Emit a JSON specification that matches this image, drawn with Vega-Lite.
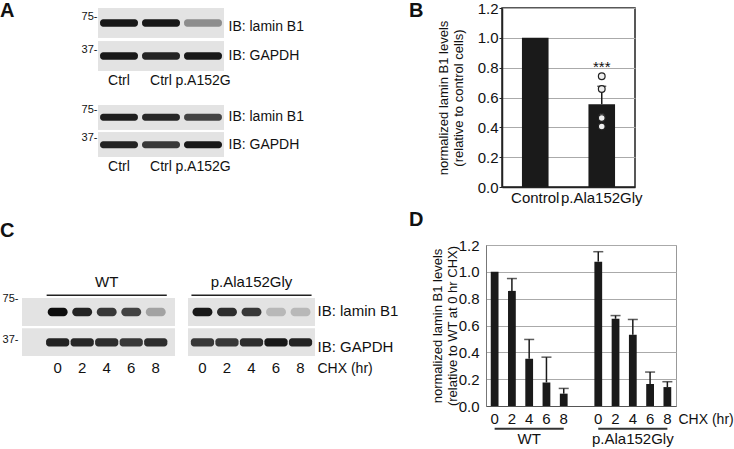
{
  "$schema": "https://vega.github.io/schema/vega-lite/v6.json",
  "padding": 0,
  "background": "white",
  "config": {
    "font": "Liberation Sans",
    "axis": {"labelColor": "#111", "titleColor": "#111", "domainColor": "#222", "tickColor": "#222"},
    "text": {"color": "#111"},
    "title": {"fontSize": 20, "fontWeight": "bold", "color": "#111", "anchor": "start", "frame": "group", "baseline": "alphabetic"}
  },
  "datasets": {
    "A1": [
      {"lane": "1", "row": "lamin B1", "v": 0.95},
      {"lane": "2", "row": "lamin B1", "v": 0.95},
      {"lane": "3", "row": "lamin B1", "v": 0.4},
      {"lane": "1", "row": "GAPDH", "v": 0.95},
      {"lane": "2", "row": "GAPDH", "v": 0.9},
      {"lane": "3", "row": "GAPDH", "v": 0.95}
    ],
    "A2": [
      {"lane": "1", "row": "lamin B1", "v": 0.92},
      {"lane": "2", "row": "lamin B1", "v": 0.88},
      {"lane": "3", "row": "lamin B1", "v": 0.75},
      {"lane": "1", "row": "GAPDH", "v": 0.9},
      {"lane": "2", "row": "GAPDH", "v": 0.8},
      {"lane": "3", "row": "GAPDH", "v": 0.95}
    ],
    "C": [
      {"g": "WT", "lane": "0", "row": "lamin B1", "v": 1.0},
      {"g": "WT", "lane": "2", "row": "lamin B1", "v": 0.9},
      {"g": "WT", "lane": "4", "row": "lamin B1", "v": 0.8},
      {"g": "WT", "lane": "6", "row": "lamin B1", "v": 0.75},
      {"g": "WT", "lane": "8", "row": "lamin B1", "v": 0.3},
      {"g": "M", "lane": "0", "row": "lamin B1", "v": 0.95},
      {"g": "M", "lane": "2", "row": "lamin B1", "v": 0.85},
      {"g": "M", "lane": "4", "row": "lamin B1", "v": 0.8},
      {"g": "M", "lane": "6", "row": "lamin B1", "v": 0.2},
      {"g": "M", "lane": "8", "row": "lamin B1", "v": 0.2},
      {"g": "WT", "lane": "0", "row": "GAPDH", "v": 0.9},
      {"g": "WT", "lane": "2", "row": "GAPDH", "v": 0.88},
      {"g": "WT", "lane": "4", "row": "GAPDH", "v": 0.85},
      {"g": "WT", "lane": "6", "row": "GAPDH", "v": 0.8},
      {"g": "WT", "lane": "8", "row": "GAPDH", "v": 0.85},
      {"g": "M", "lane": "0", "row": "GAPDH", "v": 0.8},
      {"g": "M", "lane": "2", "row": "GAPDH", "v": 0.8},
      {"g": "M", "lane": "4", "row": "GAPDH", "v": 0.85},
      {"g": "M", "lane": "6", "row": "GAPDH", "v": 0.95},
      {"g": "M", "lane": "8", "row": "GAPDH", "v": 0.9}
    ],
    "B": [
      {"group": "Control", "mean": 1.0},
      {"group": "p.Ala152Gly", "mean": 0.555, "upper": 0.675, "sig": "***"}
    ],
    "Bpts": [
      {"group": "p.Ala152Gly", "value": 0.742},
      {"group": "p.Ala152Gly", "value": 0.657},
      {"group": "p.Ala152Gly", "value": 0.47},
      {"group": "p.Ala152Gly", "value": 0.462},
      {"group": "p.Ala152Gly", "value": 0.406}
    ],
    "D": [
      {"slot": "W0", "mean": 1.0},
      {"slot": "W2", "mean": 0.858, "upper": 0.95},
      {"slot": "W4", "mean": 0.352, "upper": 0.496},
      {"slot": "W6", "mean": 0.176, "upper": 0.364},
      {"slot": "W8", "mean": 0.092, "upper": 0.131},
      {"slot": "M0", "mean": 1.076, "upper": 1.15},
      {"slot": "M2", "mean": 0.65, "upper": 0.674},
      {"slot": "M4", "mean": 0.531, "upper": 0.645},
      {"slot": "M6", "mean": 0.164, "upper": 0.253},
      {"slot": "M8", "mean": 0.141, "upper": 0.181}
    ],
    "Dgroups": [
      {"g": "WT", "start": "W0", "mid": "W4", "end": "W8"},
      {"g": "p.Ala152Gly", "start": "M0", "mid": "M4", "end": "M8"}
    ]
  },
  "spacing": 11,
  "hconcat": [
    {
      "spacing": 48,
      "vconcat": [
        {
          "bounds": "flush",
          "spacing": 0,
          "hconcat": [
            {
              "title": {"text": "A", "offset": -13},
              "width": 98, "height": 10, "view": {"stroke": null},
              "data": {"values": []}, "mark": "point", "encoding": {}
            },
            {
              "bounds": "flush",
              "spacing": 34,
              "vconcat": [
                {
                  "width": 126, "height": 63, "view": {"stroke": null},
                  "data": {"name": "A1"},
                  "layer": [
                    {
                      "mark": {"type": "rect", "color": "#e3e3e3"},
                      "encoding": {
                        "y": {"field": "row", "type": "nominal", "scale": {"domain": ["lamin B1", "GAPDH"], "paddingInner": 0.1, "paddingOuter": 0},
                          "axis": {"orient": "left", "title": null, "ticks": false, "domain": false, "labelPadding": 1, "labelFontSize": 11,
                            "labelExpr": "datum.value == 'lamin B1' ? '75-' : '37-'", "labelOffset": -6}}
                      }
                    },
                    {
                      "mark": {"type": "rect", "color": "#0d0d0d", "width": {"band": 0.9}, "height": {"band": 0.25}, "cornerRadius": 3},
                      "encoding": {
                        "x": {"field": "lane", "type": "nominal", "scale": {"domain": ["1", "2", "3"], "paddingInner": 0, "paddingOuter": 0},
                          "axis": {"title": null, "ticks": false, "domain": false, "labelAngle": 0, "labelPadding": 2, "labelFontSize": 14,
                            "labelExpr": "datum.value == '3' ? 'p.A152G' : 'Ctrl'"}},
                        "y": {"field": "row", "type": "nominal",
                          "axis": {"orient": "right", "title": null, "ticks": false, "domain": false, "labelPadding": 4, "labelFontSize": 14,
                            "labelExpr": "'IB: ' + datum.value", "labelOffset": {"condition": {"test": "datum.value == 'lamin B1'", "value": 4}, "value": 0}}},
                        "opacity": {"field": "v", "type": "quantitative", "scale": {"domain": [0, 1], "range": [0, 1]}, "legend": null}
                      }
                    }
                  ],
                  "resolve": {"axis": {"y": "independent"}}
                },
                {
                  "width": 126, "height": 52, "view": {"stroke": null},
                  "data": {"name": "A2"},
                  "layer": [
                    {
                      "mark": {"type": "rect", "color": "#e3e3e3"},
                      "encoding": {
                        "y": {"field": "row", "type": "nominal", "scale": {"domain": ["lamin B1", "GAPDH"], "paddingInner": 0.1, "paddingOuter": 0},
                          "axis": {"orient": "left", "title": null, "ticks": false, "domain": false, "labelPadding": 1, "labelFontSize": 11,
                            "labelExpr": "datum.value == 'lamin B1' ? '75-' : '37-'", "labelOffset": -7}}
                      }
                    },
                    {
                      "mark": {"type": "rect", "color": "#0d0d0d", "width": {"band": 0.9}, "height": {"band": 0.28}, "cornerRadius": 3},
                      "encoding": {
                        "x": {"field": "lane", "type": "nominal", "scale": {"domain": ["1", "2", "3"], "paddingInner": 0, "paddingOuter": 0},
                          "axis": {"title": null, "ticks": false, "domain": false, "labelAngle": 0, "labelPadding": 2, "labelFontSize": 14,
                            "labelExpr": "datum.value == '3' ? 'p.A152G' : 'Ctrl'"}},
                        "y": {"field": "row", "type": "nominal",
                          "axis": {"orient": "right", "title": null, "ticks": false, "domain": false, "labelPadding": 4, "labelFontSize": 14,
                            "labelExpr": "'IB: ' + datum.value"}},
                        "opacity": {"field": "v", "type": "quantitative", "scale": {"domain": [0, 1], "range": [0, 1]}, "legend": null}
                      }
                    }
                  ],
                  "resolve": {"axis": {"y": "independent"}}
                }
              ]
            }
          ]
        },
        {
          "bounds": "flush",
          "spacing": 0,
          "hconcat": [
            {
              "title": {"text": "C", "offset": 27},
              "width": 22, "height": 10, "view": {"stroke": null},
              "data": {"values": []}, "mark": "point", "encoding": {}
            },
            {
              "bounds": "flush",
              "spacing": 13,
              "hconcat": [
                {
                  "width": 153, "height": 88, "view": {"stroke": null},
                  "data": {"name": "C"},
                  "transform": [{"filter": "datum.g == 'WT'"}],
                  "layer": [
                    {
                      "mark": {"type": "rect", "color": "#e3e3e3"},
                      "encoding": {
                        "y": {"field": "row", "type": "nominal", "scale": {"domain": ["group", "lamin B1", "GAPDH"], "paddingInner": 0.1, "paddingOuter": 0},
                          "axis": {"orient": "left", "title": null, "ticks": false, "domain": false, "labelPadding": 4, "labelFontSize": 11,
                            "labelExpr": "datum.value == 'lamin B1' ? '75-' : datum.value == 'GAPDH' ? '37-' : ''",
                            "labelOffset": {"condition": {"test": "datum.value == 'lamin B1'", "value": -13}, "value": -2}}}
                      }
                    },
                    {
                      "transform": [{"filter": "datum.row == 'lamin B1'"}],
                      "mark": {"type": "rect", "color": "#0d0d0d", "width": {"band": 0.9}, "height": {"band": 0.32}, "cornerRadius": 4},
                      "encoding": {
                        "x": {"field": "lane", "type": "nominal", "scale": {"domain": ["0", "2", "4", "6", "8"], "paddingInner": 0.1, "paddingOuter": 0.67, "align": 0.75},
                          "axis": {"title": null, "ticks": false, "domain": false, "labelAngle": 0, "labelPadding": 4, "labelFontSize": 15}},
                        "y": {"field": "row", "type": "nominal", "axis": null},
                        "opacity": {"field": "v", "type": "quantitative", "scale": {"domain": [0, 1], "range": [0, 1]}, "legend": null}
                      }
                    },
                    {
                      "transform": [{"filter": "datum.row == 'GAPDH'"}],
                      "mark": {"type": "rect", "color": "#0d0d0d", "width": {"band": 1.05}, "height": {"band": 0.3}, "cornerRadius": 3},
                      "encoding": {
                        "x": {"field": "lane", "type": "nominal"},
                        "y": {"field": "row", "type": "nominal", "axis": null},
                        "opacity": {"field": "v", "type": "quantitative", "scale": {"domain": [0, 1], "range": [0, 1]}, "legend": null}
                      }
                    },
                    {
                      "data": {"values": [{"label": "WT"}]},
                      "mark": {"type": "text", "fontSize": 15, "baseline": "middle"},
                      "encoding": {"x": {"datum": "4"}, "y": {"datum": "group", "axis": null}, "text": {"field": "label"}}
                    },
                    {
                      "data": {"values": [{"label": "WT"}]},
                      "mark": {"type": "rule", "strokeWidth": 1.5, "color": "#222"},
                      "encoding": {"x": {"datum": "0", "bandPosition": 0}, "x2": {"datum": "8", "bandPosition": 1}, "y": {"datum": "group", "bandPosition": 1, "axis": null}}
                    }
                  ],
                  "resolve": {"axis": {"y": "independent"}}
                },
                {
                  "width": 127, "height": 88, "view": {"stroke": null},
                  "data": {"name": "C"},
                  "transform": [{"filter": "datum.g == 'M'"}],
                  "layer": [
                    {
                      "mark": {"type": "rect", "color": "#e3e3e3"},
                      "encoding": {
                        "y": {"field": "row", "type": "nominal", "scale": {"domain": ["group", "lamin B1", "GAPDH"], "paddingInner": 0.1, "paddingOuter": 0},
                          "axis": null}
                      }
                    },
                    {
                      "transform": [{"filter": "datum.row == 'lamin B1'"}],
                      "mark": {"type": "rect", "color": "#0d0d0d", "width": {"band": 0.9}, "height": {"band": 0.32}, "cornerRadius": 4},
                      "encoding": {
                        "x": {"field": "lane", "type": "nominal", "scale": {"domain": ["0", "2", "4", "6", "8"], "paddingInner": 0.1, "paddingOuter": 0.14, "align": 0.5},
                          "axis": {"title": "CHX (hr)", "titleX": 129, "titleY": 12, "titleAlign": "left", "titleBaseline": "middle", "titleFontSize": 14, "titleFontWeight": "normal",
                            "ticks": false, "domain": false, "labelAngle": 0, "labelPadding": 4, "labelFontSize": 15}},
                        "y": {"field": "row", "type": "nominal",
                          "axis": {"orient": "right", "title": null, "ticks": false, "domain": false, "labelPadding": 2, "labelFontSize": 15,
                            "labelExpr": "datum.value == 'group' ? '' : 'IB: ' + datum.value",
                            "labelOffset": {"condition": {"test": "datum.value == 'GAPDH'", "value": 5}, "value": -1}}},
                        "opacity": {"field": "v", "type": "quantitative", "scale": {"domain": [0, 1], "range": [0, 1]}, "legend": null}
                      }
                    },
                    {
                      "transform": [{"filter": "datum.row == 'GAPDH'"}],
                      "mark": {"type": "rect", "color": "#0d0d0d", "width": {"band": 1.05}, "height": {"band": 0.3}, "cornerRadius": 3},
                      "encoding": {
                        "x": {"field": "lane", "type": "nominal"},
                        "y": {"field": "row", "type": "nominal", "axis": null},
                        "opacity": {"field": "v", "type": "quantitative", "scale": {"domain": [0, 1], "range": [0, 1]}, "legend": null}
                      }
                    },
                    {
                      "data": {"values": [{"label": "p.Ala152Gly"}]},
                      "mark": {"type": "text", "fontSize": 15, "baseline": "middle"},
                      "encoding": {"x": {"datum": "4"}, "y": {"datum": "group", "axis": null}, "text": {"field": "label"}}
                    },
                    {
                      "data": {"values": [{"label": "p.Ala152Gly"}]},
                      "mark": {"type": "rule", "strokeWidth": 1.5, "color": "#222"},
                      "encoding": {"x": {"datum": "0", "bandPosition": 0}, "x2": {"datum": "8", "bandPosition": 1}, "y": {"datum": "group", "bandPosition": 1, "axis": null}}
                    }
                  ],
                  "resolve": {"axis": {"y": "independent"}}
                }
              ]
            }
          ]
        }
      ]
    },
    {
      "spacing": 4,
      "vconcat": [
        {
          "bounds": "flush",
          "spacing": 0,
          "hconcat": [
            {
              "title": {"text": "B", "offset": -13},
              "width": 93, "height": 10, "view": {"stroke": null},
              "data": {"values": []}, "mark": "point", "encoding": {}
            },
            {
              "width": 133, "height": 179,
              "view": {"stroke": "#222", "strokeWidth": 1.5},
              "data": {"name": "B"},
              "layer": [
                {
                  "mark": {"type": "bar", "color": "#1a1a1a"},
                  "encoding": {
                    "x": {"field": "group", "type": "nominal", "scale": {"domain": ["Control", "p.Ala152Gly"], "paddingInner": 0.6, "paddingOuter": 0.3},
                      "axis": {"title": null, "labelAngle": 0, "ticks": false, "labelPadding": 3, "labelFontSize": 15, "domainWidth": 1.5}},
                    "y": {"field": "mean", "type": "quantitative", "scale": {"domain": [0, 1.2], "nice": false},
                      "axis": {"values": [0, 0.2, 0.4, 0.6, 0.8, 1.0, 1.2], "tickCount": 7, "labelOverlap": false, "format": ".1f", "grid": true, "gridColor": "#aaa", "tickSize": 3, "labelPadding": 1,
                        "labelFontSize": 15, "domainWidth": 1.5, "title": ["normalized lamin B1 levels", "(relative to control cells)"], "titleFontSize": 13,
                        "titleFontWeight": "normal", "titlePadding": 12, "titleLineHeight": 15}}
                  }
                },
                {
                  "transform": [{"filter": "datum.upper != null"}],
                  "mark": {"type": "rule", "color": "#1a1a1a", "strokeWidth": 1.5},
                  "encoding": {"x": {"field": "group", "type": "nominal"}, "y": {"field": "mean", "type": "quantitative"}, "y2": {"field": "upper"}}
                },
                {
                  "transform": [{"filter": "datum.upper != null"}],
                  "mark": {"type": "tick", "color": "#1a1a1a", "thickness": 1.5, "size": 9},
                  "encoding": {"x": {"field": "group", "type": "nominal"}, "y": {"field": "upper", "type": "quantitative"}}
                },
                {
                  "data": {"name": "Bpts"},
                  "mark": {"type": "point", "shape": "circle", "filled": true, "fill": "#eeeeee", "stroke": "#222", "strokeWidth": 1.2, "size": 45, "opacity": 1},
                  "encoding": {"x": {"field": "group", "type": "nominal"}, "y": {"field": "value", "type": "quantitative"}}
                },
                {
                  "transform": [{"filter": "datum.sig != null"}],
                  "mark": {"type": "text", "fontSize": 15, "baseline": "alphabetic"},
                  "encoding": {"x": {"field": "group", "type": "nominal"}, "y": {"datum": 0.77}, "text": {"field": "sig"}}
                }
              ]
            }
          ]
        },
        {
          "bounds": "flush",
          "spacing": 0,
          "hconcat": [
            {
              "title": {"text": "D", "offset": 15},
              "width": 77, "height": 10, "view": {"stroke": null},
              "data": {"values": []}, "mark": "point", "encoding": {}
            },
            {
              "width": 190, "height": 161,
              "view": {"stroke": "#999"},
              "data": {"name": "D"},
              "layer": [
                {
                  "mark": {"type": "bar", "color": "#1a1a1a"},
                  "encoding": {
                    "x": {"field": "slot", "type": "nominal",
                      "scale": {"domain": ["W0", "W2", "W4", "W6", "W8", "x", "M0", "M2", "M4", "M6", "M8"], "paddingInner": 0.55, "paddingOuter": 0.275},
                      "axis": {"title": "CHX (hr)", "titleX": 192, "titleY": 13, "titleAlign": "left", "titleBaseline": "middle", "titleFontSize": 14, "titleFontWeight": "normal",
                        "labelExpr": "substring(datum.value, 1)", "labelAngle": 0, "ticks": false, "labelPadding": 5, "labelFontSize": 15, "domainColor": "#555"}},
                    "y": {"field": "mean", "type": "quantitative", "scale": {"domain": [0, 1.2], "nice": false},
                      "axis": {"values": [0, 0.2, 0.4, 0.6, 0.8, 1.0, 1.2], "tickCount": 7, "labelOverlap": false, "format": ".1f", "grid": true, "gridColor": "#aaa", "ticks": false, "labelPadding": 7,
                        "labelFontSize": 15, "domainColor": "#777", "title": ["normalized lamin B1 levels", "(relative to WT at 0 hr CHX)"], "titleFontSize": 13,
                        "titleFontWeight": "normal", "titlePadding": -1, "titleLineHeight": 15}}
                  }
                },
                {
                  "transform": [{"filter": "datum.upper != null"}],
                  "mark": {"type": "rule", "color": "#1a1a1a", "strokeWidth": 1.5},
                  "encoding": {"x": {"field": "slot", "type": "nominal"}, "y": {"field": "mean", "type": "quantitative"}, "y2": {"field": "upper"}}
                },
                {
                  "transform": [{"filter": "datum.upper != null"}],
                  "mark": {"type": "tick", "color": "#1a1a1a", "thickness": 1.5, "size": 10},
                  "encoding": {"x": {"field": "slot", "type": "nominal"}, "y": {"field": "upper", "type": "quantitative"}}
                },
                {
                  "data": {"name": "Dgroups"},
                  "mark": {"type": "rule", "color": "#333", "strokeWidth": 2},
                  "encoding": {"x": {"field": "start", "type": "nominal"}, "x2": {"field": "end"}, "y": {"datum": -0.169}}
                },
                {
                  "data": {"name": "Dgroups"},
                  "mark": {"type": "text", "fontSize": 15, "baseline": "middle"},
                  "encoding": {"x": {"field": "mid", "type": "nominal"}, "y": {"datum": -0.245}, "text": {"field": "g"}}
                }
              ]
            }
          ]
        }
      ]
    }
  ]
}
